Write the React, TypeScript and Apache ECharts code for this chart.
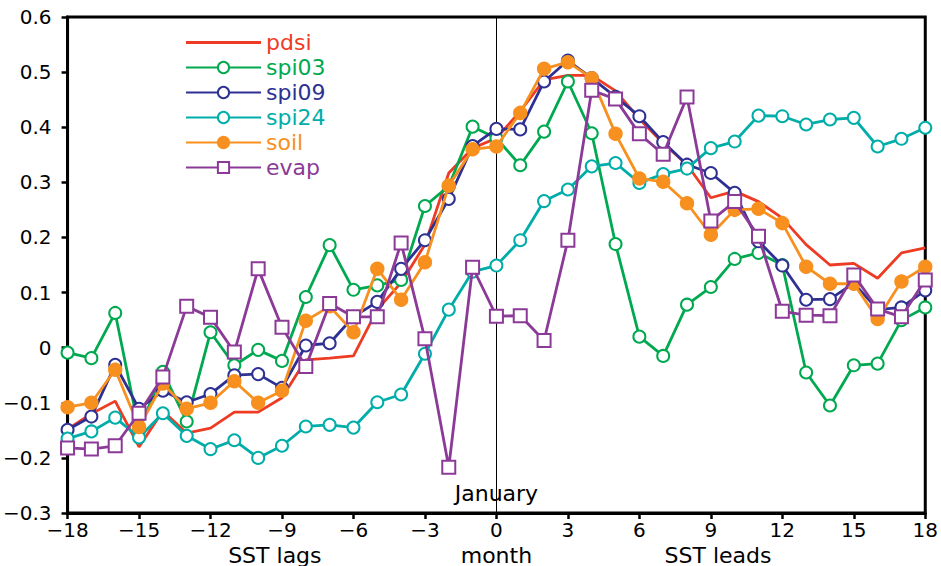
import React, { useEffect, useRef } from "react";
import * as echarts from "echarts";

const months = [-18, -17, -16, -15, -14, -13, -12, -11, -10, -9, -8, -7, -6, -5, -4, -3, -2, -1, 0, 1, 2, 3, 4, 5, 6, 7, 8, 9, 10, 11, 12, 13, 14, 15, 16, 17, 18];

const pdsi = [-0.148, -0.12, -0.097, -0.18, -0.115, -0.155, -0.146, -0.117, -0.117, -0.091, -0.022, -0.019, -0.015, 0.069, 0.118, 0.187, 0.317, 0.362, 0.38, 0.429, 0.486, 0.494, 0.494, 0.466, 0.415, 0.371, 0.332, 0.272, 0.284, 0.265, 0.235, 0.187, 0.15, 0.153, 0.126, 0.172, 0.181];
const spi03 = [-0.009, -0.019, 0.063, -0.15, -0.044, -0.134, 0.028, -0.032, -0.004, -0.024, 0.092, 0.186, 0.105, 0.113, 0.123, 0.257, 0.293, 0.401, 0.38, 0.331, 0.392, 0.483, 0.389, 0.188, 0.02, -0.015, 0.078, 0.11, 0.161, 0.172, 0.15, -0.045, -0.105, -0.032, -0.029, 0.05, 0.073];
const spi09 = [-0.149, -0.125, -0.031, -0.111, -0.078, -0.099, -0.084, -0.05, -0.048, -0.073, 0.004, 0.008, 0.056, 0.083, 0.143, 0.195, 0.27, 0.366, 0.397, 0.396, 0.483, 0.521, 0.489, 0.455, 0.42, 0.373, 0.332, 0.317, 0.281, 0.193, 0.149, 0.087, 0.088, 0.117, 0.069, 0.073, 0.104];
const spi24 = [-0.165, -0.152, -0.127, -0.163, -0.119, -0.16, -0.184, -0.168, -0.2, -0.178, -0.143, -0.14, -0.145, -0.099, -0.085, -0.011, 0.069, 0.138, 0.149, 0.195, 0.266, 0.287, 0.329, 0.335, 0.299, 0.315, 0.325, 0.362, 0.374, 0.421, 0.42, 0.405, 0.414, 0.417, 0.365, 0.379, 0.399];
const soil = [-0.108, -0.1, -0.04, -0.144, -0.065, -0.111, -0.1, -0.061, -0.1, -0.078, 0.049, 0.075, 0.028, 0.143, 0.087, 0.155, 0.294, 0.36, 0.365, 0.426, 0.506, 0.518, 0.489, 0.388, 0.307, 0.301, 0.262, 0.205, 0.25, 0.252, 0.226, 0.147, 0.116, 0.116, 0.052, 0.12, 0.147];
const evap = [-0.182, -0.184, -0.178, -0.119, -0.053, 0.075, 0.055, -0.008, 0.143, 0.037, -0.034, 0.08, 0.056, 0.056, 0.19, 0.016, -0.217, 0.146, 0.057, 0.058, 0.013, 0.195, 0.467, 0.451, 0.388, 0.351, 0.455, 0.23, 0.265, 0.202, 0.066, 0.059, 0.058, 0.132, 0.07, 0.056, 0.123];

const seriesNames = ["pdsi", "spi03", "spi09", "spi24", "soil", "evap"];
const seriesColors = ["#EE3B24", "#00A94F", "#2E3192", "#00ADA9", "#F7901E", "#8B3A97"];
const seriesSymbols = ["none", "emptyCircle", "emptyCircle", "emptyCircle", "circle", "emptyRect"];
const seriesValues = [pdsi, spi03, spi09, spi24, soil, evap];

const FONT = "DejaVu Sans";
const minusFmt = (s: string) => s.replace("-", "\u2212");

export default function App() {
  const ref = useRef<HTMLDivElement>(null);
  useEffect(() => {
    if (!ref.current) return;
    const chart = echarts.init(ref.current, null, { renderer: "svg" });
    const series: any[] = seriesNames.map((name, i) => ({
      name,
      type: "line",
      data: months.map((m, j) => [m, seriesValues[i][j]]),
      symbol: seriesSymbols[i],
      symbolSize: seriesSymbols[i] === "emptyRect" ? 13 : 12,
      showSymbol: seriesSymbols[i] !== "none",
      color: seriesColors[i],
      lineStyle: { color: seriesColors[i], width: 2.8 },
      itemStyle: {
        color: seriesColors[i],
        borderColor: seriesColors[i],
        borderWidth: 2.4,
      },
      z: 3 + i,
    }));
    series[0].markLine = {
      silent: true,
      symbol: "none",
      label: { show: false },
      lineStyle: { color: "#000", width: 1, type: "solid" },
      data: [{ xAxis: 0 }],
      z: 1,
    };
    chart.setOption({
      animation: false,
      backgroundColor: "#fff",
      grid: {
        left: 62,
        right: 12.5,
        top: 17,
        bottom: 53,
        show: true,
        borderColor: "#000",
        borderWidth: 3,
        backgroundColor: "transparent",
      },
      legend: {
        orient: "vertical",
        left: 185,
        top: 30,
        padding: 0,
        itemWidth: 75,
        itemHeight: 14,
        itemGap: 0,
        selectedMode: false,
        textStyle: { fontFamily: FONT, fontSize: 22, lineHeight: 25 },
        data: seriesNames.map((n, i) =>
          i === 0
            ? { name: n, icon: "path://M0,0 L75,0 L75,2.8 L0,2.8 Z", itemStyle: { borderWidth: 0 }, textStyle: { color: seriesColors[i] } }
            : { name: n, textStyle: { color: seriesColors[i] } }
        ),
      },
      xAxis: {
        type: "value",
        min: -18,
        max: 18,
        interval: 3,
        axisLine: { show: true, onZero: false, lineStyle: { color: "#000", width: 3 } },
        axisTick: { show: true, inside: false, length: 6, lineStyle: { color: "#000", width: 2.5 } },
        splitLine: { show: false },
        axisLabel: {
          margin: 7,
          color: "#000",
          fontFamily: FONT,
          fontSize: 20,
          formatter: (v: number) => minusFmt(String(v)),
        },
      },
      yAxis: {
        type: "value",
        min: -0.3,
        max: 0.6,
        interval: 0.1,
        axisLine: { show: true, onZero: false, lineStyle: { color: "#000", width: 3 } },
        axisTick: { show: true, inside: false, length: 6, lineStyle: { color: "#000", width: 2.5 } },
        splitLine: { show: false },
        axisLabel: {
          margin: 16,
          color: "#000",
          fontFamily: FONT,
          fontSize: 20,
          formatter: (v: number) => {
            const r = Math.round(v * 10) / 10;
            return r === 0 ? "0" : minusFmt(r.toFixed(1));
          },
        },
      },
      series,
    });

    const p0 = chart.convertToPixel({ xAxisIndex: 0, yAxisIndex: 0 }, [0, -0.3]) as number[];
    const pLag = chart.convertToPixel({ xAxisIndex: 0, yAxisIndex: 0 }, [-9.3, -0.3]) as number[];
    const pLead = chart.convertToPixel({ xAxisIndex: 0, yAxisIndex: 0 }, [9.3, -0.3]) as number[];
    const titleStyle = { fill: "#000", font: `22px "${FONT}"`, textAlign: "center", textVerticalAlign: "middle" };
    chart.setOption({
      graphic: [
        { type: "text", x: p0[0], y: p0[1] - 20, style: { ...titleStyle, text: "January" }, z: 10 },
        { type: "text", x: pLag[0], y: p0[1] + 42, style: { ...titleStyle, text: "SST lags" } },
        { type: "text", x: p0[0], y: p0[1] + 42, style: { ...titleStyle, text: "month" } },
        { type: "text", x: pLead[0], y: p0[1] + 42, style: { ...titleStyle, text: "SST leads" } },
      ],
    });
    return () => chart.dispose();
  }, []);
  return <div ref={ref} style={{ width: 941, height: 566, position: "absolute", left: 0, top: 0 }} />;
}
